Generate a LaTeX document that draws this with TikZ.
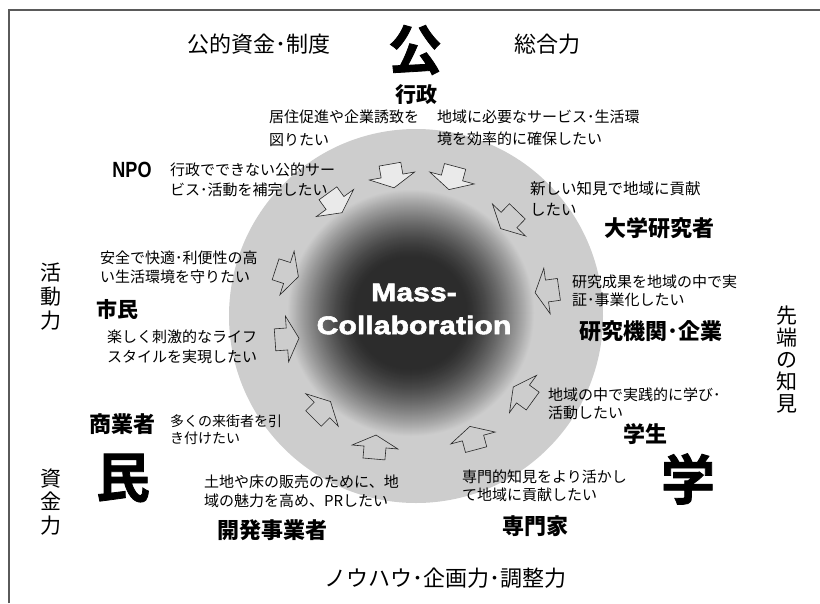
\documentclass[tikz,border=0pt]{standalone}
\usepackage{fontspec}
\setmainfont{Noto Sans CJK JP}
\newfontfamily\massfont{Liberation Sans Bold}[FakeStretch=1.18, FakeBold=2.2]
\newfontfamily\npofont{Liberation Sans Bold}[FakeStretch=0.82]
\newfontfamily\heavyjp{Noto Sans CJK JP Bold}[FakeBold=1.5]
\definecolor{cgray}{RGB}{205,205,205}
\definecolor{lgray}{RGB}{234,234,234}
\definecolor{dcore}{RGB}{44,44,44}
\definecolor{framec}{RGB}{90,90,90}
\tikzset{
  arrowline/.style={draw=black!85, line width=0.6pt, line join=miter},
  pics/inarrow/.style={code={\draw[arrowline, fill=#1] (-12,-11) -- (0,-11) -- (0,-23) -- (12,0) -- (0,23) -- (0,11) -- (-12,11) -- cycle;}},
  desc/.style={anchor=west, inner sep=0, align=left, font=\fontsize{15}{19}\selectfont},
  lab/.style={inner sep=0, font=\fontsize{22}{26}\selectfont\bfseries},
  big/.style={inner sep=0, font=\heavyjp\fontsize{54}{60}\selectfont},
  axis/.style={inner sep=0, font=\fontsize{22}{26}\selectfont},
  vert/.style={inner sep=0, align=center},
}
\begin{document}
\begin{tikzpicture}[x=1pt, y=-1pt]
\useasboundingbox (0,0) rectangle (820,603);
% frame
\draw[framec, line width=1.2pt] (9,603) -- (9,10) -- (820,10);
% circle and gradient
\fill[cgray] (416,316) circle[radius=187pt];
\coordinate (gc) at (411,313);
\foreach \r in {124,123,...,55}{
  \pgfmathsetmacro\t{100*((\r-55)/69)^1.4}
  \fill[cgray!\t!dcore] (gc) circle[radius=\r pt];
}
% arrows
\pic[rotate=-80] (a1) at (392,176) {inarrow=lgray};
\pic[rotate=-105] (a2) at (452,178) {inarrow=lgray};
\pic[rotate=-54] (a3) at (335,203) {inarrow=lgray};
\pic[rotate=-134] (a4) at (509,220) {inarrow=cgray};
\pic[rotate=-172] (a5) at (547,291) {inarrow=cgray};
\pic[rotate=144] (a6) at (523,394) {inarrow=cgray};
\pic[rotate=105] (a7) at (473,438) {inarrow=cgray};
\pic[rotate=85] (a8) at (375,447) {inarrow=cgray};
\pic[rotate=45] (a9) at (322,410) {inarrow=cgray};
\pic[rotate=4] (a10) at (287,339) {inarrow=cgray};
\pic[rotate=-18] (a11) at (287,273) {inarrow=cgray};
% center text
\node[inner sep=0, align=center, text=white, font=\massfont\fontsize{25.6}{33}\selectfont] (mc) at (414,309) {Mass-\\Collaboration};
% axis labels
\node[axis] (kokyo) at (259,44) {公的資金･制度};
\node[axis] (sogo) at (547,44) {総合力};
\node[axis] (nouhau) at (445,578) {ノウハウ･企画力･調整力};
\node[vert, font=\fontsize{21}{24}\selectfont] (katsu) at (51,297) {活\\動\\力};
\node[vert, font=\fontsize{21}{23.5}\selectfont] (shikin) at (51,502) {資\\金\\力};
\node[vert, font=\fontsize{21}{22}\selectfont] (sentan) at (787,360) {先\\端\\の\\知\\見};
% big characters
\node[big] (ko) at (415,50) {公};
\node[big] (min) at (123,478) {民};
\node[big] (gaku) at (688,479) {学};
% actor labels
\node[lab, font=\fontsize{21}{26}\selectfont\bfseries] (gyosei) at (416,95) {行政};
\node[inner sep=0, font=\npofont\fontsize{22}{26}\selectfont] (npo) at (132,170) {NPO};
\node[lab] (daigaku) at (659,228) {大学研究者};
\node[lab] (kenkyu) at (651,331) {研究機関･企業};
\node[lab, font=\fontsize{21}{26}\selectfont\bfseries] (shimin) at (117,309) {市民};
\node[lab] (shogyo) at (122,424) {商業者};
\node[lab] (kaihatsu) at (272,530) {開発事業者};
\node[lab] (senmon) at (535,526) {専門家};
\node[lab] (gakusei) at (645,434) {学生};
% descriptions
\node[desc, font=\fontsize{15}{22.5}\selectfont] (t1) at (269,128.5) {居住促進や企業誘致を\\図りたい};
\node[desc, font=\fontsize{15}{22}\selectfont] (t2) at (437,128) {地域に必要なサービス･生活環\\境を効率的に確保したい};
\node[desc, font=\fontsize{15}{20}\selectfont] (t3) at (170,180) {行政でできない公的サー\\ビス･活動を補完したい};
\node[desc, font=\fontsize{15.5}{21}\selectfont] (t4) at (530,198.5) {新しい知見で地域に貢献\\したい};
\node[desc, font=\fontsize{15}{18}\selectfont] (t5) at (572,291) {研究成果を地域の中で実\\証･事業化したい};
\node[desc, font=\fontsize{15}{19}\selectfont] (t6) at (100,267.5) {安全で快適･利便性の高\\い生活環境を守りたい};
\node[desc, font=\fontsize{15}{20}\selectfont] (t7) at (107,347) {楽しく刺激的なライフ\\スタイルを実現したい};
\node[desc, font=\fontsize{14}{17}\selectfont] (t8) at (170,429.5) {多くの来街者を引\\き付けたい};
\node[desc, font=\fontsize{15}{19}\selectfont] (t9) at (204,491.5) {土地や床の販売のために、地\\域の魅力を高め、PRしたい};
\node[desc, font=\fontsize{15}{18}\selectfont] (t10) at (548,404) {地域の中で実践的に学び･\\活動したい};
\node[desc, font=\fontsize{15}{18}\selectfont] (t11) at (462,486) {専門的知見をより活かし\\て地域に貢献したい};
\end{tikzpicture}
\end{document}
